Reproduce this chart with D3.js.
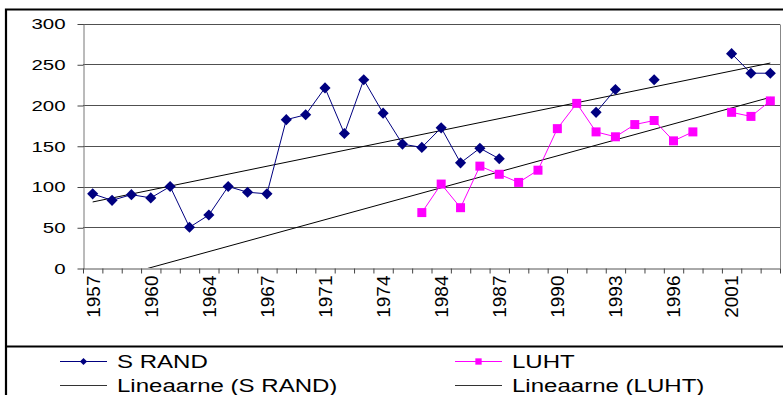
<!DOCTYPE html>
<html>
<head>
<meta charset="utf-8">
<script src="https://cdn.jsdelivr.net/npm/d3@7"></script>
<style>
  body { margin: 0; background: #fff; }
  svg { display: block; }
  text { font-family: "Liberation Sans", Arial, sans-serif; fill: #000; }
</style>
</head>
<body>
<script>
// Categories (only every third one gets a label)
const years = [
  "1957", "1958", "1959", "1960", "1961", "1962", "1964", "1965", "1966",
  "1967", "1968", "1969", "1971", "1972", "1973", "1974", "1975", "1983",
  "1984", "1985", "1986", "1987", "1988", "1989", "1990", "1991", "1992",
  "1993", "1994", "1995", "1996", "1997", "1998", "2001", "2002", "2003",
];

// S RAND values, null = no value that year
const sRand = [
  91, 83, 90, 86, 100, 50, 65, 100, 93, 91, 182, 188, 221, 165, 231, 190,
  152, 148, 172, 129, 147, 134, null, null, null, null, 191, 219, null, 231,
  null, null, null, 263, 239, 239,
];

// LUHT values
const luht = [
  null, null, null, null, null, null, null, null, null, null, null, null,
  null, null, null, null, null, 68, 103, 74, 125, 115, 105, 120, 171, 202,
  167, 161, 176, 181, 156, 167, null, 191, 186, 205,
];

const yTicks = [0, 50, 100, 150, 200, 250, 300];

const width = 783;
const height = 395;
const plot = { left: 83, right: 780, top: 23.5, bottom: 268 };

const svg = d3
  .select("body")
  .append("svg")
  .attr("width", width)
  .attr("height", height);

// Scales
const x = d3.scaleBand().domain(years).range([plot.left, plot.right]);
const y = d3.scaleLinear().domain([0, 300]).range([plot.bottom, plot.top]);
const cx = (i) => x(years[i]) + x.bandwidth() / 2;

// Gridlines
svg
  .append("g")
  .selectAll("line")
  .data(yTicks.filter((d) => d > 0))
  .join("line")
  .attr("x1", plot.left)
  .attr("x2", plot.right)
  .attr("y1", (d) => Math.round(y(d)) + 0.5)
  .attr("y2", (d) => Math.round(y(d)) + 0.5)
  .attr("stroke", "#505050");

// right border of plot area
svg
  .append("line")
  .attr("x1", plot.right + 0.5)
  .attr("x2", plot.right + 0.5)
  .attr("y1", Math.round(y(300)) + 0.5)
  .attr("y2", plot.bottom + 0.5)
  .attr("stroke", "#888");

// Y axis
const yAxis = svg
  .append("g")
  .attr("transform", `translate(${plot.left + 0.5},0.5)`)
  .call(d3.axisLeft(y).tickValues(yTicks).tickSize(6).tickSizeOuter(0));
yAxis.select(".domain").attr("stroke", "#777");
yAxis.selectAll(".tick line").attr("stroke", "#444");
yAxis
  .selectAll(".tick text")
  .attr("font-size", 15.5)
  .attr("x", -18 / 1.32)
  .attr("transform", "scale(1.32,1)");

// X axis: labels every 3rd category
const xAxis = svg
  .append("g")
  .attr("transform", `translate(0,${plot.bottom + 0.5})`)
  .call(
    d3
      .axisBottom(x)
      .tickValues(years.filter((d, i) => i % 3 === 0))
      .tickSize(0)
      .tickSizeOuter(0)
  );
xAxis.select(".domain").attr("stroke", "#555");
xAxis
  .selectAll(".tick text")
  .attr("font-size", 19)
  .attr("text-anchor", "end")
  .attr("transform", "rotate(-90)")
  .attr("x", -7)
  .attr("y", 0)
  .attr("dy", "0.36em");

// tick marks between categories
xAxis
  .append("g")
  .selectAll("line")
  .data(years.concat(["end"]))
  .join("line")
  .attr("x1", (d) => (d === "end" ? plot.right : x(d)) + 0.5)
  .attr("x2", (d) => (d === "end" ? plot.right : x(d)) + 0.5)
  .attr("y1", 0)
  .attr("y2", 5)
  .attr("stroke", "#444");

// Linear trend over category index
function trend(vals) {
  const pts = vals.map((v, i) => [i, v]).filter((p) => p[1] != null);
  const mx = d3.mean(pts, (p) => p[0]);
  const my = d3.mean(pts, (p) => p[1]);
  const sxy = d3.sum(pts, (p) => (p[0] - mx) * (p[1] - my));
  const sxx = d3.sum(pts, (p) => (p[0] - mx) ** 2);
  const b = sxy / sxx;
  const a = my - b * mx;
  const last = vals.length - 1;
  return [
    [0, a],
    [last, a + b * last],
  ];
}

svg
  .append("clipPath")
  .attr("id", "plotClip")
  .append("rect")
  .attr("x", plot.left)
  .attr("y", plot.top)
  .attr("width", plot.right - plot.left)
  .attr("height", plot.bottom - plot.top);

const trendLine = d3
  .line()
  .x((d) => cx(d[0]))
  .y((d) => y(d[1]));

const trends = svg.append("g").attr("clip-path", "url(#plotClip)");
[sRand, luht].forEach((vals) => {
  trends
    .append("path")
    .attr("d", trendLine(trend(vals)))
    .attr("fill", "none")
    .attr("stroke", "#000")
    .attr("stroke-width", 1);
});

// Series lines + markers
const seriesLine = d3
  .line()
  .defined((d) => d != null)
  .x((d, i) => cx(i))
  .y((d) => y(d));

const diamond = d3.symbol(d3.symbolSquare, 62);
const square = d3.symbol(d3.symbolSquare, 81);

function drawSeries(vals, color, sym, rot) {
  const g = svg.append("g");
  g.append("path")
    .attr("d", seriesLine(vals))
    .attr("fill", "none")
    .attr("stroke", color)
    .attr("stroke-width", 1);
  g.selectAll("path.m")
    .data(vals.map((v, i) => [i, v]).filter((p) => p[1] != null))
    .join("path")
    .attr("class", "m")
    .attr("d", sym)
    .attr("fill", color)
    .attr("transform", (p) => `translate(${cx(p[0])},${y(p[1])}) rotate(${rot})`);
}

drawSeries(luht, "#ff00ff", square, 0);
drawSeries(sRand, "#000080", diamond, 45);

// Outer frame and legend border
svg
  .append("path")
  .attr("d", `M6,${height + 2} V9.5 H${width + 2}`)
  .attr("fill", "none")
  .attr("stroke", "#000")
  .attr("stroke-width", 2.2);
svg
  .append("line")
  .attr("x1", 6)
  .attr("x2", width + 2)
  .attr("y1", 346.5)
  .attr("y2", 346.5)
  .attr("stroke", "#000")
  .attr("stroke-width", 2);

// Legend
const legendItems = [
  { label: "S RAND", color: "#000080", sym: d3.symbol(d3.symbolSquare, 26), rot: 45, col: 0, row: 0 },
  { label: "LUHT", color: "#ff00ff", sym: d3.symbol(d3.symbolSquare, 40), rot: 0, col: 1, row: 0 },
  { label: "Lineaarne (S RAND)", color: "#333", sym: null, col: 0, row: 1 },
  { label: "Lineaarne (LUHT)", color: "#333", sym: null, col: 1, row: 1 },
];
const colX = [60, 455];
const rowY = [361, 385];

const legend = svg
  .append("g")
  .selectAll("g")
  .data(legendItems)
  .join("g")
  .attr("transform", (d) => `translate(${colX[d.col]},${rowY[d.row]})`);

legend
  .append("line")
  .attr("x1", 0)
  .attr("x2", 47)
  .attr("y1", 0.5)
  .attr("y2", 0.5)
  .attr("stroke", (d) => d.color);

legend
  .filter((d) => d.sym)
  .append("path")
  .attr("d", (d) => d.sym())
  .attr("fill", (d) => d.color)
  .attr("transform", (d) => `translate(23.5,0.5) rotate(${d.rot})`);

legend
  .append("text")
  .attr("font-size", 18.5)
  .attr("transform", "translate(57,0) scale(1.3,1)")
  .attr("dy", "0.36em")
  .text((d) => d.label);
</script>
</body>
</html>
